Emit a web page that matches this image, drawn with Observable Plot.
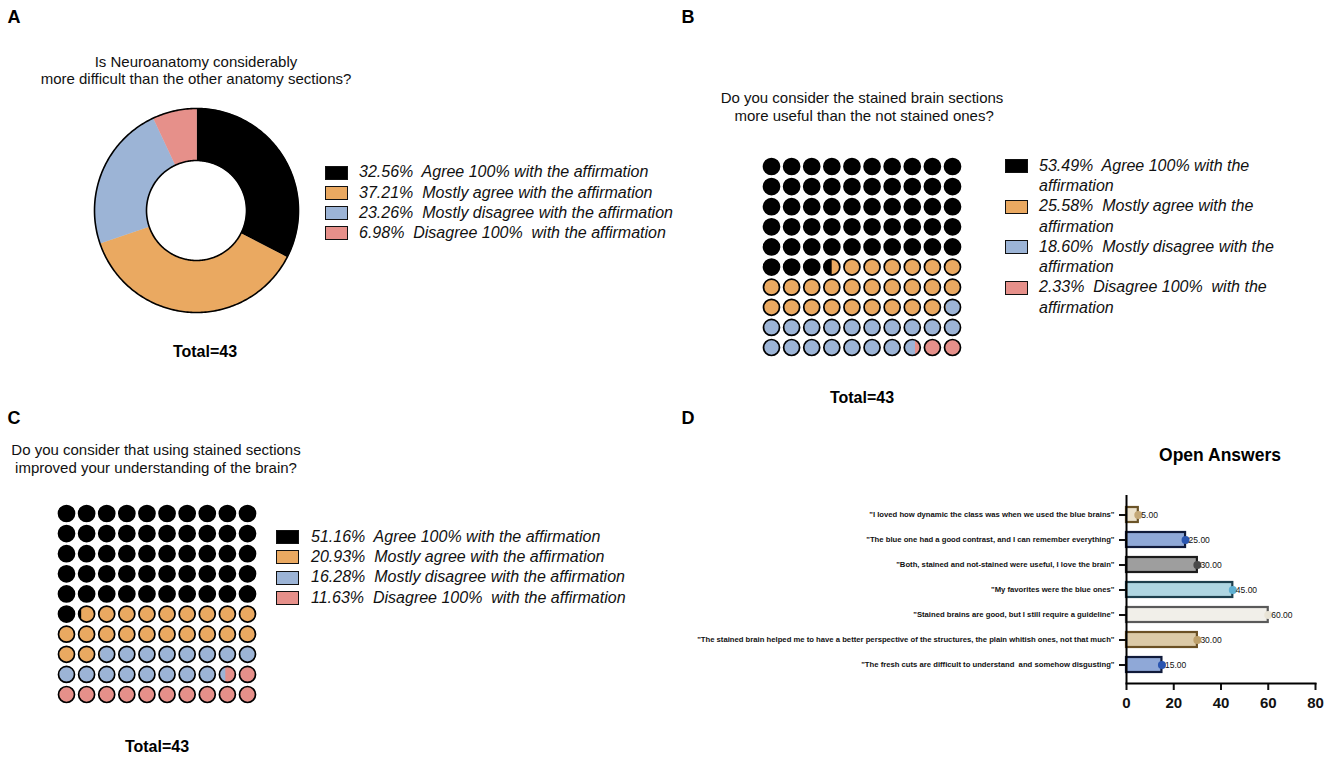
<!DOCTYPE html>
<html><head><meta charset="utf-8">
<script src="https://cdn.jsdelivr.net/npm/d3@7"></script>
<script src="https://cdn.jsdelivr.net/npm/@observablehq/plot@0.6"></script>
<style>
body{margin:0;background:#fff;}
#root{position:relative;width:1325px;height:757px;overflow:hidden;font-family:"Liberation Sans",Arial,Helvetica,sans-serif;color:#111;background:#fff;}
.t{position:absolute;white-space:pre;}
.c{transform:translate(-50%,-50%);text-align:center;}
.plot{position:absolute;}
.plot svg{overflow:visible;}
.sw{position:absolute;box-sizing:border-box;border:1.6px solid #111;}
.lg{position:absolute;font-style:italic;font-size:16px;white-space:pre-wrap;}
</style></head><body><div id="root"></div>
<script>
// ---------- data ----------
const responseCategories = ["Agree 100% with the affirmation","Mostly agree with the affirmation","Mostly disagree with the affirmation","Disagree 100%  with the affirmation"];
const categoryColors = ["#000000","#eaa961","#9cb4d6","#e6908a"];
const percentA = [32.56, 37.21, 23.26, 6.98];
const percentB = [53.49, 25.58, 18.60, 2.33];
const percentC = [51.16, 20.93, 16.28, 11.63];
const totalRespondents = 43;
const panelLetters = ["A","B","C","D"];
const titleA = ["Is Neuroanatomy considerably","more difficult than the other anatomy sections?"];
const titleB = ["Do you consider the stained brain sections"," more useful than the not stained ones?"];
const titleC = ["Do you consider that using stained sections","improved your understanding of the brain?"];
const titleD = "Open Answers";
const openAnswers = [
  "\"I loved how dynamic the class was when we used the blue brains\"",
  "\"The blue one had a good contrast, and I can remember everything\"",
  "\"Both, stained and not-stained were useful, I love the brain\"",
  "\"My favorites were the blue ones\"",
  "\"Stained brains are good, but I still require a guideline\"",
  "\"The stained brain helped me to have a better perspective of the structures, the plain whitish ones, not that much\"",
  "\"The fresh cuts are difficult to understand  and somehow disgusting\""
];
const openValues = [5, 25, 30, 45, 60, 30, 15];
const barFills = ["#ece2cd","#8fa8d7","#9e9e9e","#afd6e2","#f1efe9","#dccaa7","#8fa8d7"];
const barStrokes = ["#6b5428","#101a3a","#1c1c1c","#1d3f4d","#5a5a5a","#6b5024","#101a3a"];
const dotColors = ["#c4a877","#2a55b0","#4a4a4a","#5fb0d2","#e9e4d6","#bea06a","#2a55b0"];
const xTicks = [0, 20, 40, 60, 80];

// ---------- helpers ----------
const root = document.getElementById("root");
function text(str, x, y, style, cls="t c") {
  const d = document.createElement("div");
  d.className = cls; d.textContent = str;
  d.style.left = x + "px"; d.style.top = y + "px";
  Object.assign(d.style, style || {});
  root.appendChild(d); return d;
}
function place(node, x, y) {
  const d = document.createElement("div");
  d.className = "plot"; d.style.left = x + "px"; d.style.top = y + "px";
  d.appendChild(node); root.appendChild(d);
}
function legend(pcts, swX, txtX, y0, step, width, lh) {
  pcts.forEach((p, k) => {
    const y = y0 + k * step;
    const s = document.createElement("div");
    s.className = "sw";
    Object.assign(s.style, {left: swX + "px", top: (y - 7) + "px", width: "23px", height: "14px", background: categoryColors[k]});
    root.appendChild(s);
    const t = document.createElement("div");
    t.className = "lg";
    t.textContent = `${p.toFixed(2)}%  ${responseCategories[k]}`;
    Object.assign(t.style, {left: txtX + "px", top: (y - lh / 2) + "px", lineHeight: lh + "px", width: width ? width + "px" : "auto", whiteSpace: width ? "pre-wrap" : "pre"});
    root.appendChild(t);
  });
}

// ---------- donut (A) ----------
const INNER = 50 / 102;
function donutData(pcts) {
  const total = d3.sum(pcts), pts = [];
  let acc = 0;
  pcts.forEach((p, k) => {
    const a0 = acc / total * 2 * Math.PI, a1 = (acc + p) / total * 2 * Math.PI; acc += p;
    const n = Math.max(2, Math.ceil((a1 - a0) / (2 * Math.PI) * 240));
    for (let j = 0; j <= n; j++) { const a = a0 + (a1 - a0) * j / n; pts.push({k, x: Math.sin(a), y: Math.cos(a), color: categoryColors[k]}); }
    for (let j = n; j >= 0; j--) { const a = a0 + (a1 - a0) * j / n; pts.push({k, x: INNER * Math.sin(a), y: INNER * Math.cos(a), color: categoryColors[k]}); }
  });
  return pts;
}
function ring(rad, id) {
  return d3.range(0, 361).map(t => ({id, x: rad * Math.sin(t * Math.PI / 180), y: rad * Math.cos(t * Math.PI / 180)}));
}
const donutPlot = Plot.plot({
  width: 214, height: 214, margin: 5,
  x: {domain: [-1, 1], axis: null}, y: {domain: [-1, 1], axis: null},
  marks: [
    Plot.line(donutData(percentA), {x: "x", y: "y", z: "k", fill: "color", stroke: "color", strokeWidth: 0.6, curve: "linear"}),
    Plot.line(ring(1, "o").concat(ring(INNER, "i")), {x: "x", y: "y", z: "id", stroke: "#000", strokeWidth: 1.6, fill: "none"})
  ]
});
place(donutPlot, 89, 102.5);

// ---------- waffles (B, C) ----------
function segmentSymbol(l, r) {
  return {draw(ctx, size) {
    const R = Math.sqrt(size / Math.PI);
    const xl = -R + 2 * R * l, xr = -R + 2 * R * r;
    const al = Math.acos(Math.max(-1, Math.min(1, xl / R)));
    const ar = Math.acos(Math.max(-1, Math.min(1, xr / R)));
    ctx.moveTo(xr, -R * Math.sin(ar));
    ctx.arc(0, 0, R, -ar, -al, true);
    ctx.lineTo(xl, R * Math.sin(al));
    ctx.arc(0, 0, R, al, ar, true);
    ctx.closePath();
  }};
}
function waffle(pcts) {
  const total = d3.sum(pcts);
  const bounds = Array.from(d3.cumsum(pcts), v => v / total * 100);
  const cells = [], partial = [];
  for (let i = 0; i < 100; i++) {
    const segs = [];
    bounds.forEach((hi, k) => {
      const lo = k ? bounds[k - 1] : 0;
      const l = Math.max(i, lo), r = Math.min(i + 1, hi);
      if (r - l > 1e-9) segs.push({k, l: l - i, r: r - i});
    });
    const cell = {col: i % 10, row: Math.floor(i / 10), base: segs[segs.length - 1].k};
    cells.push(cell);
    segs.slice(0, -1).forEach(s => partial.push({...cell, ...s}));
  }
  const R = 8;
  return Plot.plot({
    width: 204, height: 205, marginLeft: 11, marginRight: 12, marginTop: 12, marginBottom: 12,
    x: {domain: [0, 9], axis: null}, y: {domain: [0, 9], reverse: true, axis: null},
    marks: [
      Plot.dot(cells, {x: "col", y: "row", r: R, fill: d => categoryColors[d.base], stroke: "none"}),
      ...partial.map(s => Plot.dot([s], {x: "col", y: "row", r: R, fill: categoryColors[s.k], stroke: "none", symbol: segmentSymbol(s.l, s.r)})),
      Plot.dot(cells, {x: "col", y: "row", r: R, fill: "none", stroke: "#000", strokeWidth: 1.7})
    ]
  });
}
place(waffle(percentB), 760, 154);
place(waffle(percentC), 55, 501);

// ---------- bar chart (D) ----------
const openData = openAnswers.map((a, i) => ({answer: a, value: openValues[i], fill: barFills[i], stroke: barStrokes[i], dot: dotColors[i]}));
const barPlot = Plot.plot({
  width: 635, height: 250,
  marginLeft: 436, marginRight: 10, marginTop: 25, marginBottom: 37,
  style: {fontFamily: "Liberation Sans, Arial, sans-serif", color: "#111", background: "transparent"},
  x: {domain: [0, 80]},
  y: {domain: openAnswers, paddingInner: 0.42, paddingOuter: 0.355},
  marks: [
    Plot.barX(openData, {x: "value", y: "answer", fill: "fill", stroke: "stroke", strokeWidth: 2.2}),
    Plot.dot(openData, {x: "value", y: "answer", r: 4, fill: "dot", stroke: "none"}),
    Plot.text(openData, {x: "value", y: "answer", text: d => d.value.toFixed(2), dx: 3, textAnchor: "start", fontSize: 8.5, fill: "#111"}),
    Plot.axisX({ticks: xTicks, tickSize: 7, tickPadding: 7, fontSize: 15, fontWeight: "bold", strokeWidth: 2, label: null}),
    Plot.axisY({tickSize: 7, tickPadding: 5, fontSize: 7.7, fontWeight: "bold", strokeWidth: 2, label: null}),
    Plot.ruleX([0], {strokeWidth: 2, stroke: "#000"}),
    Plot.frame({anchor: "bottom", strokeWidth: 2, stroke: "#000"})
  ]
});
place(barPlot, 690, 470);

// ---------- texts ----------
const letterStyle = {fontWeight: "bold", fontSize: "18px", color: "#000"};
text(panelLetters[0], 14, 17, letterStyle);
text(panelLetters[1], 688, 17, letterStyle);
text(panelLetters[2], 14, 418, letterStyle);
text(panelLetters[3], 688, 418, letterStyle);
const titleStyle = {fontSize: "15px", lineHeight: "17.5px", color: "#111"};
text(titleA.join("\n"), 196, 69.5, titleStyle);
text(titleB.join("\n"), 862, 106, titleStyle);
text(titleC.join("\n"), 156, 458, titleStyle);
const totalStyle = {fontWeight: "bold", fontSize: "16px", color: "#000"};
text(`Total=${totalRespondents}`, 205, 352, totalStyle);
text(`Total=${totalRespondents}`, 862, 398, totalStyle);
text(`Total=${totalRespondents}`, 157, 747, totalStyle);
text(titleD, 1220, 455, {fontWeight: "bold", fontSize: "17.5px", color: "#000"});

legend(percentA, 325, 359, 172.5, 20.2, null, 20.2);
legend(percentB, 1005, 1039, 166, 40.5, 250, 20.3);
legend(percentC, 276, 311, 537, 20.3, null, 20.3);
</script></body></html>
